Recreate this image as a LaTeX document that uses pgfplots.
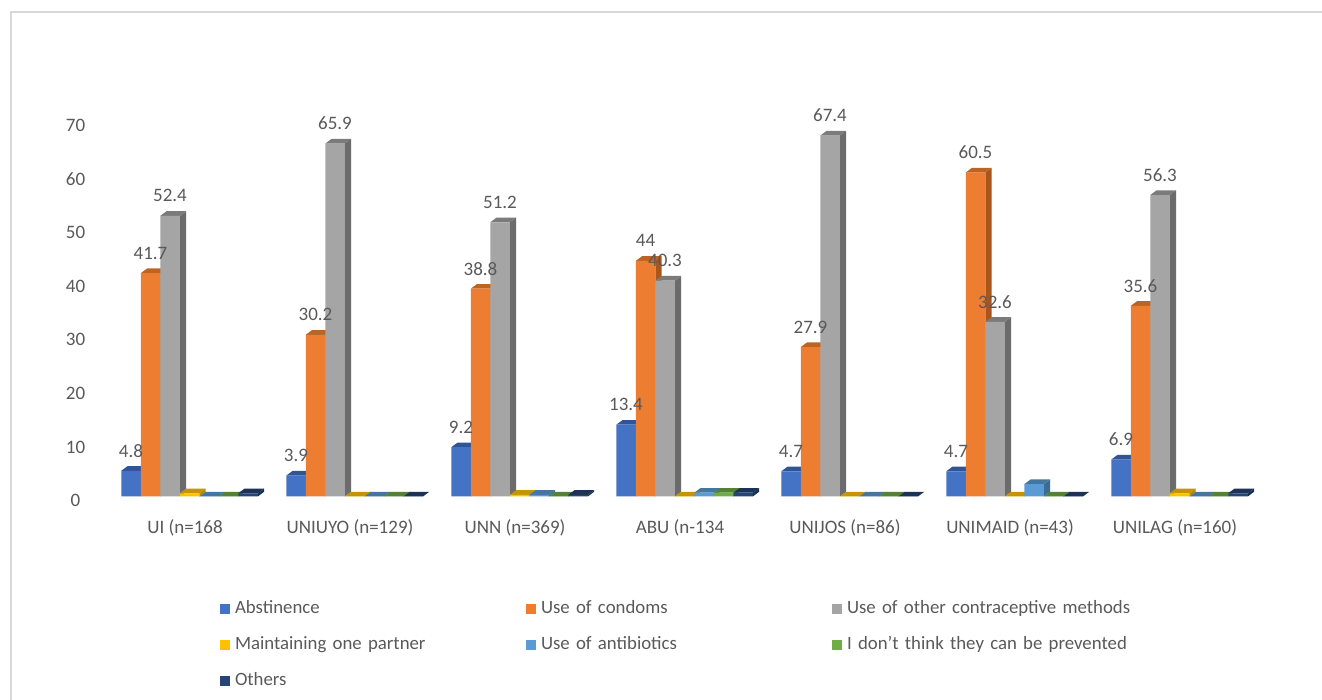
\documentclass[border=0pt]{standalone}
\usepackage{pgfplots}
\usepackage{pgfplotstable}
\usepackage{fontspec}
\pgfplotsset{compat=1.18}
\setmainfont{Carlito}
\usetikzlibrary{plotmarks}

\definecolor{labelgray}{HTML}{595959}
\definecolor{frontA}{HTML}{4472C4}\definecolor{sideA}{HTML}{2F5597}\definecolor{topA}{HTML}{2F5597}
\definecolor{frontB}{HTML}{ED7D31}\definecolor{sideB}{HTML}{A9561E}\definecolor{topB}{HTML}{BE6423}
\definecolor{frontC}{HTML}{A5A5A5}\definecolor{sideC}{HTML}{6B6B6B}\definecolor{topC}{HTML}{7B7B7B}
\definecolor{frontD}{HTML}{FFC000}\definecolor{sideD}{HTML}{B58900}\definecolor{topD}{HTML}{C49500}
\definecolor{frontE}{HTML}{5B9BD5}\definecolor{sideE}{HTML}{3A6C97}\definecolor{topE}{HTML}{44769F}
\definecolor{frontF}{HTML}{70AD47}\definecolor{sideF}{HTML}{4F7A32}\definecolor{topF}{HTML}{548235}
\definecolor{frontG}{HTML}{264478}\definecolor{sideG}{HTML}{1A3055}\definecolor{topG}{HTML}{1C3257}

% Extruded faces of a bar: top and right side, drawn from the top centre of its front.
\newcommand{\declareextrusion}[1]{%
  \pgfdeclareplotmark{extrude#1}{%
    \pgfmathsetmacro{\sidedrop}{\barvalue*5.355}%
    \pgfsetfillcolor{side#1}%
    \pgfpathmoveto{\pgfqpoint{9.75pt}{0pt}}%
    \pgfpathlineto{\pgfqpoint{16.05pt}{4.7pt}}%
    \pgfpathlineto{\pgfpoint{16.05pt}{4.7pt-\sidedrop pt}}%
    \pgfpathlineto{\pgfpoint{9.75pt}{-\sidedrop pt}}%
    \pgfpathclose\pgfusepathqfill
    \pgfsetfillcolor{top#1}%
    \pgfpathmoveto{\pgfqpoint{-9.75pt}{0pt}}%
    \pgfpathlineto{\pgfqpoint{9.75pt}{0pt}}%
    \pgfpathlineto{\pgfqpoint{16.05pt}{4.7pt}}%
    \pgfpathlineto{\pgfqpoint{-3.45pt}{4.7pt}}%
    \pgfpathclose\pgfusepathqfill
  }}
\declareextrusion{A}\declareextrusion{B}\declareextrusion{C}\declareextrusion{D}
\declareextrusion{E}\declareextrusion{F}\declareextrusion{G}

\pgfplotstableread{
idx abst cond other one anti prev rest
0   4.8  41.7 52.4  0.6 0    0    0.6
1   3.9  30.2 65.9  0   0    0    0
2   9.2  38.8 51.2  0.3 0.3  0    0.3
3   13.4 44   40.3  0   0.7  0.7  0.7
4   4.7  27.9 67.4  0   0    0    0
5   4.7  60.5 32.6  0   2.3  0    0
6   6.9  35.6 56.3  0.6 0    0    0.6
}\prevention

\pgfplotsset{
  faces/.style 2 args={
    scatter, only marks, forget plot, mark=extrude#1, xshift=#2pt,
    point meta=y, visualization depends on={rawy \as \barvalue},
    scatter/@pre marker code/.code={}, scatter/@post marker code/.code={}},
  front/.style 2 args={
    ybar, bar width=19.5pt, bar shift=#2pt, draw=none, fill=front#1,
    legend image code/.code={\fill[front#1] (0pt,-5pt) rectangle (10pt,5pt);}},
  valuelabels/.style={
    ybar, bar width=19.5pt, bar shift=#1pt, draw=none, fill=none, forget plot,
    nodes near coords,
    every node near coord/.style={anchor=center, xshift=#1pt, yshift=20pt,
      font=\fontsize{19}{21}\selectfont, text=labelgray}},
}

\begin{document}
\begin{tikzpicture}[x=1pt,y=1pt]
\useasboundingbox (0,0) rectangle (1322,700);
\draw[draw=black!15, line width=2pt] (10.5,0) -- (10.5,688) -- (1322,688);
\begin{axis}[
  at={(102.5pt,203.5pt)}, anchor=south west,
  x=165pt, y=5.355pt,
  xmin=-0.5, xmax=6.5, ymin=0, ymax=70,
  clip=false, clip mode=individual,
  axis line style={draw=none},
  major tick length=0pt,
  xtick={0,...,6},
  xticklabels={UI (n=168,UNIUYO (n=129),UNN (n=369),ABU (n-134,UNIJOS (n=86),UNIMAID (n=43),UNILAG (n=160)},
  ytick={0,10,...,70},
  tick label style={font=\fontsize{19}{21}\selectfont, text=labelgray},
  /pgf/number format/assume math mode=true,
  yticklabel style={yshift=-4pt, anchor=center, xshift=-27pt},
  xticklabel style={anchor=center, yshift=-31pt},
  legend columns=3,
  legend style={
    at={(117.5pt,-104pt)}, anchor=north west, draw=none, fill=none, inner sep=0pt, outer sep=0pt,
    row sep=19pt, font=\fontsize{18.8}{20}\selectfont, text=labelgray,
    /tikz/every odd column/.append style={column sep=5pt},
    nodes={text height=13pt, text depth=4pt, inner sep=0pt, outer sep=0pt, text width=291pt, align=left},
  },
  legend cell align=left,
]
\addplot[faces={A}{-54}]   table[x=idx,y=abst]  {\prevention};
\addplot[front={A}{-54}]   table[x=idx,y=abst]  {\prevention};
\addlegendentry{Abstinence}
\addplot[faces={B}{-34.5}] table[x=idx,y=cond]  {\prevention};
\addplot[front={B}{-34.5}] table[x=idx,y=cond]  {\prevention};
\addlegendentry{Use of condoms}
\addplot[faces={C}{-15}]   table[x=idx,y=other] {\prevention};
\addplot[front={C}{-15}]   table[x=idx,y=other] {\prevention};
\addlegendentry{Use of other contraceptive methods}
\addplot[faces={D}{4.5}]   table[x=idx,y=one]   {\prevention};
\addplot[front={D}{4.5}]   table[x=idx,y=one]   {\prevention};
\addlegendentry{Maintaining one partner}
\addplot[faces={E}{24}]    table[x=idx,y=anti]  {\prevention};
\addplot[front={E}{24}]    table[x=idx,y=anti]  {\prevention};
\addlegendentry{Use of antibiotics}
\addplot[faces={F}{43.5}]  table[x=idx,y=prev]  {\prevention};
\addplot[front={F}{43.5}]  table[x=idx,y=prev]  {\prevention};
\addlegendentry{I don’t think they can be prevented}
\addplot[faces={G}{63}]    table[x=idx,y=rest]  {\prevention};
\addplot[front={G}{63}]    table[x=idx,y=rest]  {\prevention};
\addlegendentry{Others}
\addplot[valuelabels=-54]   table[x=idx,y=abst]  {\prevention};
\addplot[valuelabels=-34.5] table[x=idx,y=cond]  {\prevention};
\addplot[valuelabels=-15]   table[x=idx,y=other] {\prevention};
\end{axis}
\end{tikzpicture}
\end{document}
